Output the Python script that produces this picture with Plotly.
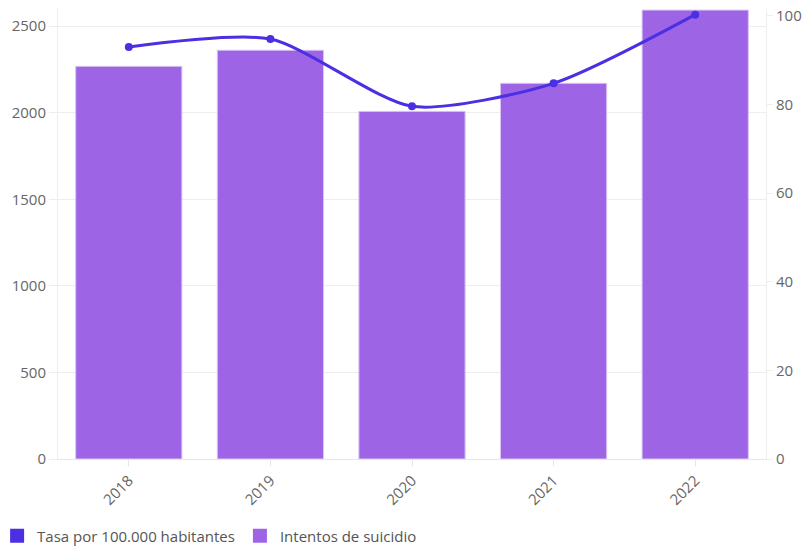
import plotly.graph_objects as go

years = ["2018", "2019", "2020", "2021", "2022"]
intentos = [2268, 2361, 2008, 2170, 2593]
tasa = [93.0, 94.8, 79.6, 84.8, 100.3]

bar_color = "#9d65e5"
line_color = "#4a2fe3"
font_family = "Open Sans"
grey = "#666666"

fig = go.Figure()
fig.add_trace(go.Bar(
    x=years, y=intentos, name="Intentos de suicidio",
    marker=dict(color=bar_color, line=dict(color="#d9c4f5", width=1)),
    showlegend=False, yaxis="y",
))
fig.add_trace(go.Scatter(
    x=years, y=tasa, name="Tasa por 100.000 habitantes",
    mode="lines+markers", line=dict(color=line_color, width=3, shape="spline", smoothing=0.7),
    marker=dict(color=line_color, size=8), showlegend=False, yaxis="y2",
))
# legend proxies with square icons
fig.add_trace(go.Scatter(x=[None], y=[None], mode="markers", name="Tasa por 100.000 habitantes",
                         marker=dict(symbol="square", size=14, color=line_color)))
fig.add_trace(go.Scatter(x=[None], y=[None], mode="markers", name="Intentos de suicidio",
                         marker=dict(symbol="square", size=14, color=bar_color)))

fig.update_layout(
    width=806, height=548,
    margin=dict(l=58, r=40, t=8, b=89, autoexpand=False),
    plot_bgcolor="white", paper_bgcolor="white",
    font=dict(family=font_family, size=15, color=grey),
    bargap=0.25,
    xaxis=dict(
        type="category", tickangle=-45, showgrid=False, automargin=False,
        showline=True, linecolor="#e6e6e6", ticks="outside", ticklen=6, tickcolor="#e6e6e6",
        mirror=False,
    ),
    yaxis=dict(
        range=[0, 2605], tickvals=[0, 500, 1000, 1500, 2000, 2500], automargin=False,
        showgrid=True, gridcolor="#eeeeee", zeroline=False,
        showline=True, linecolor="#eeeeee", ticks="outside", ticklen=8, tickcolor="#eeeeee",
    ),
    yaxis2=dict(
        range=[0, 101.8], tickvals=[0, 20, 40, 60, 80, 100], overlaying="y", side="right",
        showgrid=False, zeroline=False, automargin=False,
        showline=True, linecolor="#eeeeee", ticks="outside", ticklen=6, tickcolor="#eeeeee",
    ),
    legend=dict(orientation="h", x=-0.086, y=-0.171, yanchor="middle",
                xanchor="left", itemclick=False,
                font=dict(size=15, color="#555555"), tracegroupgap=0),
)

fig.write_html("out.html")
